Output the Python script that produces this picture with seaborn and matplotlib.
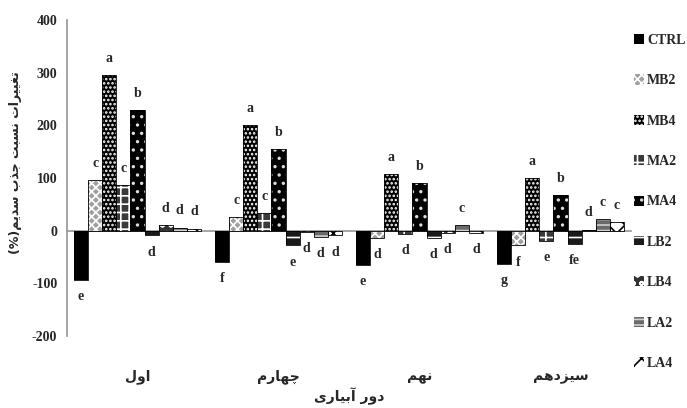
import numpy as np
import pandas as pd
import matplotlib
matplotlib.use("Agg")
import matplotlib.pyplot as plt
import seaborn as sns
from matplotlib.patches import Rectangle, Patch

# ---------------- data ----------------
rounds = ["اول", "چهارم", "نهم", "سیزدهم"]
treatments = ["CTRL", "MB2", "MB4", "MA2", "MA4", "LB2", "LB4", "LA2", "LA4"]

ctrl = [-93, -60, -65, -63]
mb2 = [96, 25, -14, -28]
mb4 = [296, 200, 107, 100]
ma2 = [86, 33, -6, -20]
ma4 = [229, 155, 91, 67]
lb2 = [-9, -28, -13, -25]
lb4 = [11, -3, -5, 2]
la2 = [6, -12, 10, 22]
la4 = [4, -9, -5, 17]

ctrl_l = ["e", "f", "e", "g"]
mb2_l = ["c", "c", "d", "f"]
mb4_l = ["a", "a", "a", "a"]
ma2_l = ["c", "c", "d", "e"]
ma4_l = ["b", "b", "b", "b"]
lb2_l = ["d", "e", "d", "fe"]
lb4_l = ["d", "d", "d", "d"]
la2_l = ["d", "d", "c", "c"]
la4_l = ["d", "d", "d", "c"]

y_ticks = [-200, -100, 0, 100, 200, 300, 400]
x_title = "دور آبیاری"
y_title = "تغییرات نسبت جذب سدیم"

values = [ctrl, mb2, mb4, ma2, ma4, lb2, lb4, la2, la4]
letters = [ctrl_l, mb2_l, mb4_l, ma2_l, ma4_l, lb2_l, lb4_l, la2_l, la4_l]

# ---------------- simple Persian shaping (presentation forms + RTL order) -------------
FORMS = {
    'ا': ('\uFE8D', '\uFE8E', None, None),
    'آ': ('\uFE81', '\uFE82', None, None),
    'ب': ('\uFE8F', '\uFE90', '\uFE91', '\uFE92'),
    'ت': ('\uFE95', '\uFE96', '\uFE97', '\uFE98'),
    'ج': ('\uFE9D', '\uFE9E', '\uFE9F', '\uFEA0'),
    'چ': ('\uFB7A', '\uFB7B', '\uFB7C', '\uFB7D'),
    'د': ('\uFEA9', '\uFEAA', None, None),
    'ذ': ('\uFEAB', '\uFEAC', None, None),
    'ر': ('\uFEAD', '\uFEAE', None, None),
    'ز': ('\uFEAF', '\uFEB0', None, None),
    'س': ('\uFEB1', '\uFEB2', '\uFEB3', '\uFEB4'),
    'غ': ('\uFECD', '\uFECE', '\uFECF', '\uFED0'),
    'ل': ('\uFEDD', '\uFEDE', '\uFEDF', '\uFEE0'),
    'م': ('\uFEE1', '\uFEE2', '\uFEE3', '\uFEE4'),
    'ن': ('\uFEE5', '\uFEE6', '\uFEE7', '\uFEE8'),
    'ه': ('\uFEE9', '\uFEEA', '\uFEEB', '\uFEEC'),
    'و': ('\uFEED', '\uFEEE', None, None),
    'ی': ('\uFBFC', '\uFBFD', '\uFBFE', '\uFBFF'),
}


def fa(text):
    out = []
    n = len(text)
    for i, c in enumerate(text):
        if c not in FORMS:
            out.append(c)
            continue
        prev = text[i - 1] if i > 0 else None
        nxt = text[i + 1] if i < n - 1 else None
        jp = prev in FORMS and FORMS[prev][2] is not None
        jn = FORMS[c][2] is not None and nxt in FORMS
        iso, fin, ini, med = FORMS[c]
        if jp and jn:
            out.append(med)
        elif jp:
            out.append(fin)
        elif jn:
            out.append(ini)
        else:
            out.append(iso)
    return "".join(out[::-1])


# ---------------- figure ----------------
sns.set_theme(style="white")
plt.rcParams["font.family"] = ["Liberation Serif", "DejaVu Sans"]
plt.rcParams["hatch.linewidth"] = 1.2

df = pd.DataFrame({
    "round": np.repeat(rounds, len(treatments)),
    "treatment": treatments * len(rounds),
    "value": [values[t][r] for r in range(len(rounds)) for t in range(len(treatments))],
})

fig = plt.figure(figsize=(6.87, 4.08), dpi=100)
ax = fig.add_axes([67 / 687, 1 - 336 / 408, (631 - 67) / 687, 316 / 408])

sns.barplot(data=df, x="round", y="value", hue="treatment", order=rounds,
            hue_order=treatments, width=0.9, errorbar=None, legend=False, ax=ax,
            palette=["black"] * len(treatments))

styles = [
    dict(fc="black", hatch="", hc="black"),        # CTRL
    dict(fc="#a0a0a0", hatch="xxxx", hc="white"),  # MB2
    dict(fc="black", hatch="....", hc="white"),    # MB4
    dict(fc="#3a3a3a", hatch="++", hc="white"),    # MA2
    dict(fc="black", hatch="..", hc="#dddddd"),    # MA4
    dict(fc="#1a1a1a", hatch="--", hc="white"),    # LB2
    dict(fc="#333333", hatch="oo", hc="white"),    # LB4
    dict(fc="#6a6a6a", hatch="---", hc="#d0d0d0"), # LA2
    dict(fc="white", hatch="xx", hc="black"),      # LA4
]

for i, cont in enumerate(ax.containers):
    st = styles[i]
    for j, p in enumerate(cont):
        p.set_facecolor(st["fc"])
        p.set_hatch(st["hatch"])
        p.set_edgecolor(st["hc"])
        p.set_linewidth(0)
        ax.add_patch(Rectangle((p.get_x(), p.get_y()), p.get_width(), p.get_height(),
                               fill=False, ec="black", lw=0.6, zorder=p.get_zorder() + 0.1))
        h = p.get_height()
        xc = p.get_x() + p.get_width() / 2
        off = 12 if h >= 0 else -12
        ax.annotate(letters[i][j], (xc, h), xytext=(0, off), textcoords="offset points",
                    ha="center", va="center", fontsize=10, fontweight="bold",
                    family="Liberation Serif")

ax.set_ylim(-200, 400)
ax.set_yticks(y_ticks)
ax.set_yticklabels([str(v) for v in y_ticks], fontsize=10, fontweight="bold")
ax.set_xlim(-0.5, len(rounds) - 0.5)

for s in ["top", "right"]:
    ax.spines[s].set_visible(False)
ax.spines["left"].set_color("#9a9a9a")
ax.spines["bottom"].set_color("#9a9a9a")
ax.spines["bottom"].set_position(("data", 0))
ax.spines["bottom"].set_zorder(0.5)

ax.tick_params(axis="y", which="major", length=4, color="#9a9a9a", direction="out", pad=3)
ax.set_xticks(range(len(rounds)))
ax.set_xticklabels([fa(r) for r in rounds], fontsize=10, fontweight="bold",
                   family=["DejaVu Sans"])
ax.set_xticks([k + 0.5 for k in range(len(rounds) - 1)], minor=True)
ax.tick_params(axis="x", which="major", length=0, pad=100)
ax.tick_params(axis="x", which="minor", length=4, color="#9a9a9a", direction="out")

ax.set_xlabel(fa(x_title), fontsize=10, fontweight="bold", family=["DejaVu Sans"], labelpad=2)
ax.set_ylabel("(%)" + fa(y_title), fontsize=9, fontweight="bold", family=["DejaVu Sans"])
ax.yaxis.set_label_coords(-0.08, 0.55)

handles = [Patch(facecolor=st["fc"], hatch=st["hatch"], edgecolor=st["hc"], linewidth=0)
           for st in styles]
leg = fig.legend(handles, treatments, loc="upper left", bbox_to_anchor=(634 / 687, 1 - 34 / 408),
                 frameon=False, prop={"family": "Liberation Serif", "weight": "bold", "size": 10},
                 handlelength=0.75, handleheight=0.75, handletextpad=0.2, labelspacing=1.97,
                 borderaxespad=0, borderpad=0)

fig.savefig("out.png", dpi=100)
